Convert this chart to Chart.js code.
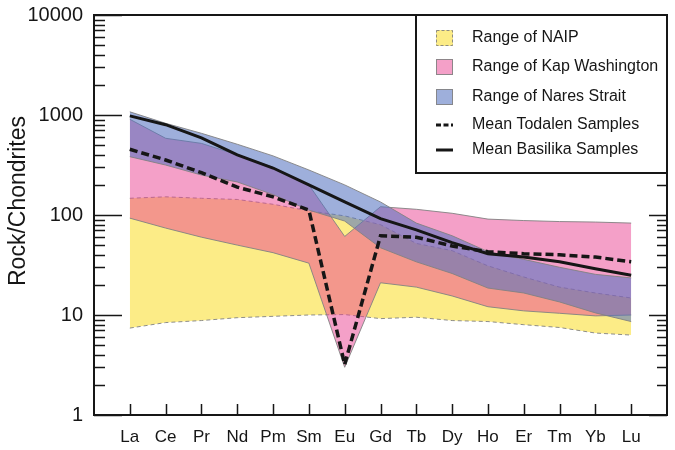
<!DOCTYPE html>
<html>
<head>
<meta charset="utf-8">
<script src="https://cdn.jsdelivr.net/npm/chart.js@4.4.0/dist/chart.umd.min.js"></script>
<style>
  body { margin: 0; background: #fff; }
  #wrap { width: 675px; height: 450px; }
</style>
</head>
<body>
<div id="wrap"><canvas id="reeChart" width="675" height="450"></canvas></div>
<script>
// REE patterns, chondrite normalised
const elements = ["La", "Ce", "Pr", "Nd", "Pm", "Sm", "Eu", "Gd", "Tb", "Dy", "Ho", "Er", "Tm", "Yb", "Lu"]
const yTicks = [1, 10, 100, 1000, 10000]

const naipLow = [7.4, 8.4, 8.8, 9.4, 9.7, 10, 10.1, 9.2, 9.5, 8.8, 8.6, 8.0, 7.5, 6.6, 6.3]
const naipHigh = [147, 152, 147, 143, 128, 110, 98, 80, 52, 44, 31, 24, 19, 16.6, 14.8]
const kapLow = [93, 74, 60, 50, 42, 33, 3.0, 21, 19, 15.5, 12.1, 11, 10.4, 9.8, 10]
const kapHigh = [906, 585, 520, 400, 300, 200, 61, 121, 114, 104, 91, 88, 86, 85, 83]
const naresLow = [383, 316, 251, 214, 160, 112, 87, 47, 34, 26, 18.6, 16.6, 13.5, 10.5, 8.6]
const naresHigh = [1076, 826, 656, 510, 390, 282, 200, 135, 83, 62, 43, 36, 30, 25.5, 23.5]
const todalen = [454, 355, 265, 190, 152, 112, 3.2, 62, 60, 49, 43, 41, 40, 38, 34]
const basilika = [980, 800, 590, 400, 295, 200, 135, 92, 71, 53, 41, 38, 34, 29, 25]

const YELLOW = "rgb(252, 236, 135)"
const PINK = "rgba(233, 65, 145, 0.5)"
const BLUE = "rgba(84, 114, 192, 0.57)"
const EDGE = "rgba(130, 130, 130, 0.9)"
const INK = "#161616"
const FONT = '"Liberation Sans", Arial, sans-serif'

function pts(values) {
  return values.map((v, i) => ({ x: i, y: v }))
}

const legendItems = [
  { text: "Range of NAIP", kind: "box", color: YELLOW, dash: [3, 2] },
  { text: "Range of Kap Washington", kind: "box", color: PINK, dash: [] },
  { text: "Range of Nares Strait", kind: "box", color: BLUE, dash: [] },
  { text: "Mean Todalen Samples", kind: "line", dash: [5, 2.5] },
  { text: "Mean Basilika Samples", kind: "line", dash: [] },
]
const legendRows = [23, 52, 82, 110, 135] // offsets below the plot top

// frame + inward tick marks
const frameAndTicks = {
  id: "frameAndTicks",
  afterDatasetsDraw(chart) {
    const { ctx, chartArea: a, scales } = chart
    const x = scales.x
    const y = scales.y
    ctx.save()
    ctx.strokeStyle = INK
    ctx.beginPath()
    for (let d = 1; d <= 10000; d *= 10) {
      for (let m = 1; m < 10; m++) {
        const v = d * m
        if (v > 10000) break
        const py = Math.round(y.getPixelForValue(v)) + 0.5
        const major = m === 1
        ctx.moveTo(a.left, py)
        ctx.lineTo(a.left + (major ? 28 : 11), py)
        ctx.moveTo(a.right, py)
        ctx.lineTo(a.right - (major ? 18 : 10), py)
      }
    }
    elements.forEach((el, i) => {
      const px = Math.round(x.getPixelForValue(i)) + 0.5
      ctx.moveTo(px, a.bottom)
      ctx.lineTo(px, a.bottom - 11)
    })
    ctx.lineWidth = 1.5
    ctx.stroke()
    ctx.lineWidth = 2
    ctx.strokeRect(a.left, a.top, a.right - a.left, a.bottom - a.top)

    // y title
    ctx.translate(19, 201)
    ctx.rotate(-Math.PI / 2)
    ctx.fillStyle = INK
    ctx.font = "23px " + FONT
    ctx.textAlign = "center"
    ctx.textBaseline = "middle"
    ctx.fillText("Rock/Chondrites", 0, 0)
    ctx.restore()
  },
}

const legendBox = {
  id: "legendBox",
  afterDraw(chart) {
    const { ctx, chartArea: a } = chart
    const left = 416
    const top = a.top
    ctx.save()
    ctx.fillStyle = "#fff"
    ctx.fillRect(left, top, a.right - left, 158)
    ctx.strokeStyle = INK
    ctx.lineWidth = 2
    ctx.strokeRect(left, top, a.right - left, 158)
    legendItems.forEach((item, i) => {
      const cy = top + legendRows[i]
      if (item.kind === "box") {
        ctx.fillStyle = item.color
        ctx.fillRect(436, cy - 8, 17, 16)
        ctx.strokeStyle = EDGE
        ctx.lineWidth = 1
        ctx.setLineDash(item.dash)
        ctx.strokeRect(436.5, cy - 7.5, 16, 15)
      } else {
        ctx.strokeStyle = INK
        ctx.lineWidth = 3
        ctx.setLineDash(item.dash)
        ctx.beginPath()
        ctx.moveTo(436, cy)
        ctx.lineTo(453, cy)
        ctx.stroke()
      }
      ctx.setLineDash([])
      ctx.fillStyle = INK
      ctx.font = "16px " + FONT
      ctx.textBaseline = "middle"
      ctx.fillText(item.text, 472, cy)
    })
    ctx.restore()
  },
}

const reeChart = new Chart(document.getElementById("reeChart"), {
  type: "line",
  data: {
    datasets: [
      { label: "naipLow", data: pts(naipLow), borderColor: EDGE, borderWidth: 1, borderDash: [4, 3], fill: false, order: 8 },
      { label: "Range of NAIP", data: pts(naipHigh), borderColor: EDGE, borderWidth: 1, borderDash: [4, 3], backgroundColor: YELLOW, fill: { target: 0 }, order: 9 },
      { label: "kapLow", data: pts(kapLow), borderColor: EDGE, borderWidth: 1, fill: false, order: 6 },
      { label: "Range of Kap Washington", data: pts(kapHigh), borderColor: EDGE, borderWidth: 1, backgroundColor: PINK, fill: { target: 2 }, order: 7 },
      { label: "naresLow", data: pts(naresLow), borderColor: EDGE, borderWidth: 1, fill: false, order: 4 },
      { label: "Range of Nares Strait", data: pts(naresHigh), borderColor: EDGE, borderWidth: 1, backgroundColor: BLUE, fill: { target: 4 }, order: 5 },
      { label: "Mean Todalen Samples", data: pts(todalen), borderColor: INK, borderWidth: 3.5, borderDash: [8, 4], fill: false, order: 1 },
      { label: "Mean Basilika Samples", data: pts(basilika), borderColor: INK, borderWidth: 3, fill: false, order: 0 },
    ],
  },
  options: {
    responsive: false,
    animation: false,
    events: [],
    layout: { padding: { top: 15, right: 8, left: 0, bottom: 0 } },
    elements: { point: { radius: 0 }, line: { tension: 0 } },
    plugins: {
      legend: { display: false },
      tooltip: { enabled: false },
      filler: { drawTime: "beforeDatasetDraw" },
    },
    scales: {
      x: {
        type: "linear",
        min: -1,
        max: 15,
        afterBuildTicks: (scale) => {
          scale.ticks = elements.map((e, i) => ({ value: i }))
        },
        afterFit: (scale) => {
          scale.height = 35
          scale.paddingLeft = 0
          scale.paddingRight = 0
        },
        grid: { display: false, drawTicks: false },
        border: { display: false },
        ticks: {
          autoSkip: false,
          maxRotation: 0,
          padding: 12,
          color: INK,
          font: { family: FONT, size: 17 },
          callback: (v) => elements[v],
        },
      },
      y: {
        type: "logarithmic",
        min: 1,
        max: 10000,
        afterBuildTicks: (scale) => {
          scale.ticks = yTicks.map((v) => ({ value: v }))
        },
        afterFit: (scale) => {
          scale.width = 94
          scale.paddingTop = 0
          scale.paddingBottom = 0
        },
        grid: { display: false, drawTicks: false },
        border: { display: false },
        ticks: {
          autoSkip: false,
          padding: 11,
          color: INK,
          font: { family: FONT, size: 20 },
          callback: (v) => String(v),
        },
      },
    },
  },
  plugins: [frameAndTicks, legendBox],
})
</script>
</body>
</html>
